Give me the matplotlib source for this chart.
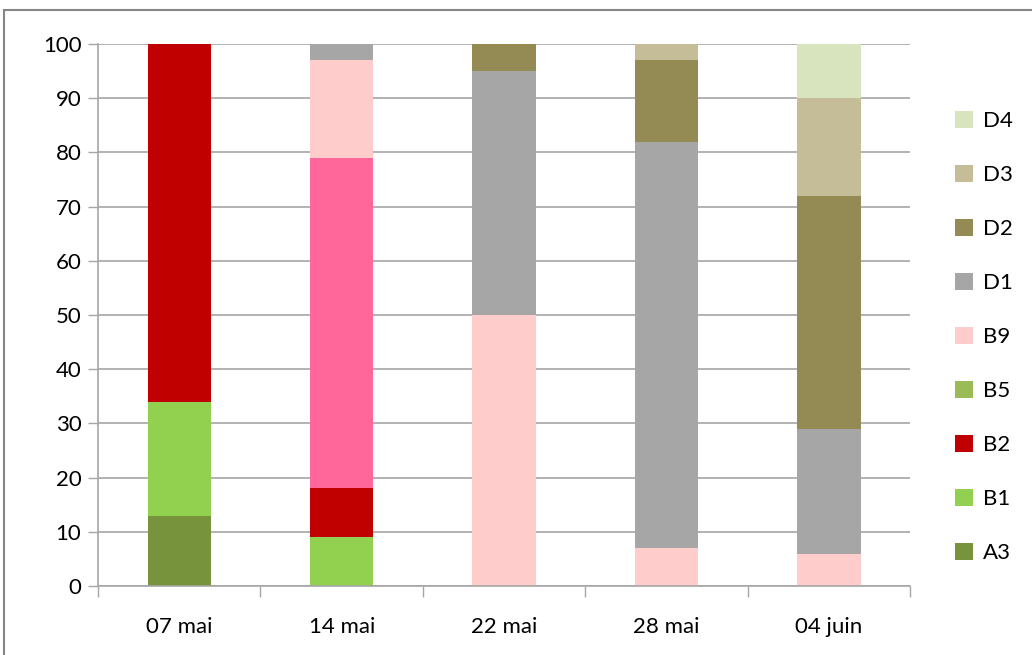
#!/usr/bin/env python3
# -*- coding: utf-8 -*-

import matplotlib
matplotlib.use('Agg')
import matplotlib.pyplot as plt
import numpy as np
from matplotlib.patches import Rectangle, Patch

plt.rcParams['font.family'] = ['Lato', 'DejaVu Sans']

dates = ['07 mai', '14 mai', '22 mai', '28 mai', '04 juin']

# stacked percentages, bottom to top
series = ['A3', 'B1', 'B2', 'B5', 'B7', 'B9', 'D1', 'D2', 'D3', 'D4']
values = {
    'A3': [13, 0, 0, 0, 0],
    'B1': [21, 9, 0, 0, 0],
    'B2': [66, 9, 0, 0, 0],
    'B5': [0, 0, 0, 0, 0],
    'B7': [0, 61, 0, 0, 0],
    'B9': [0, 18, 50, 7, 6],
    'D1': [0, 3, 45, 75, 23],
    'D2': [0, 0, 5, 15, 43],
    'D3': [0, 0, 0, 3, 18],
    'D4': [0, 0, 0, 0, 10],
}
colors = {
    'A3': '#77933C', 'B1': '#92D050', 'B2': '#C00000', 'B5': '#9BBB59',
    'B7': '#FF6699', 'B9': '#FFCCCC', 'D1': '#A6A6A6', 'D2': '#948A54',
    'D3': '#C4BD97', 'D4': '#D7E4BD',
}
in_legend = ['A3', 'B1', 'B2', 'B5', 'B9', 'D1', 'D2', 'D3', 'D4']


def main():
    fig = plt.figure(figsize=(10.32, 6.55), dpi=100)
    ax = fig.add_axes([0.095, 0.1053, 0.787, 0.8275])

    x = np.arange(len(dates))
    bottom = np.zeros(len(dates))
    for s in series:
        v = np.array(values[s], dtype=float)
        ax.bar(x, v, 0.39, bottom=bottom, color=colors[s], zorder=2)
        bottom += v

    ax.set_xlim(-0.5, len(dates) - 0.5)
    ax.set_ylim(0, 100)
    ax.set_yticks(np.arange(0, 101, 10))
    ax.set_xticks(x)
    ax.set_xticklabels(dates)
    ax.set_xticks(np.arange(-0.5, len(dates), 1), minor=True)
    ax.tick_params(axis='x', which='major', length=0, pad=22, labelsize=16)
    ax.tick_params(axis='x', which='minor', length=8, color='#A6A6A6', width=1)
    ax.tick_params(axis='y', length=7, color='#A6A6A6', width=1, labelsize=16, pad=5)
    ax.yaxis.grid(True, color='#A6A6A6', lw=1.2, zorder=0)
    ax.set_axisbelow(True)
    for side in ['top', 'right']:
        ax.spines[side].set_visible(False)
    for side in ['left', 'bottom']:
        ax.spines[side].set_color('#A6A6A6')
        ax.spines[side].set_linewidth(1.2)

    handles = [Patch(facecolor=colors[s], label=s) for s in reversed(in_legend)]
    fig.legend(handles=handles, loc='center left', bbox_to_anchor=(0.906, 0.485),
               frameon=False, fontsize=16, labelspacing=1.52, handlelength=0.8,
               handleheight=0.8, handletextpad=0.45)

    # outer chart frame
    fig.patches.append(Rectangle((0.004, -0.01), 1.1, 0.995, transform=fig.transFigure,
                                 fill=False, edgecolor='#868686', lw=1.5))

    fig.savefig('out.png', dpi=100)


if __name__ == '__main__':
    main()
